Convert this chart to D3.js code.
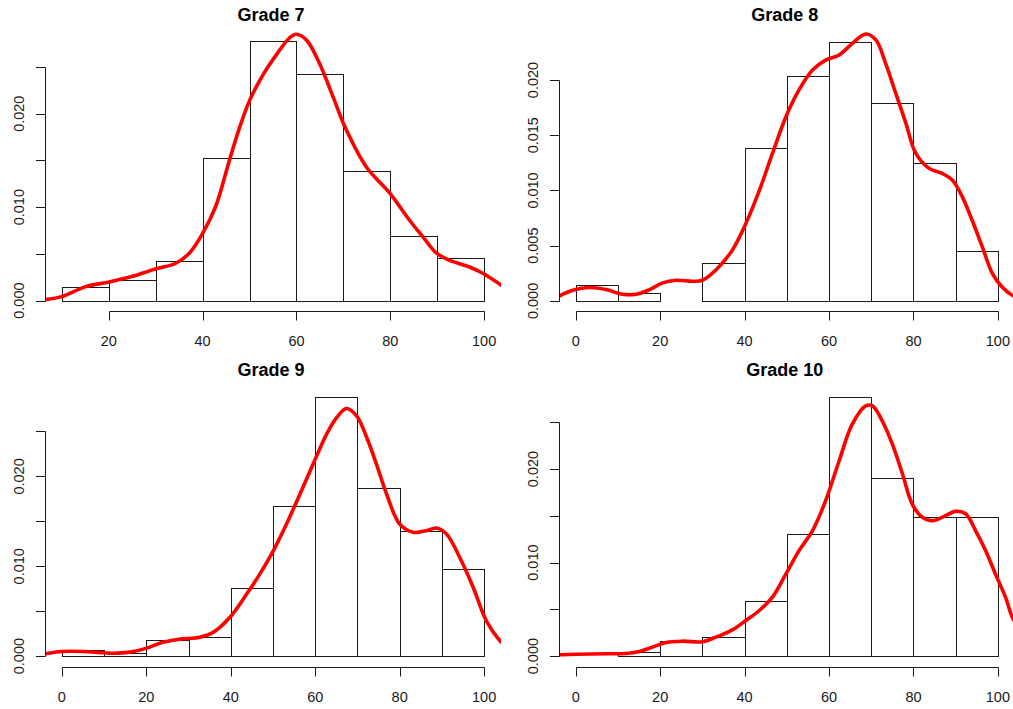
<!DOCTYPE html>
<html><head><meta charset="utf-8">
<script src="https://cdn.jsdelivr.net/npm/d3@7"></script>
<style>body{margin:0;background:#fff}svg{display:block}</style>
</head><body>
<script>
// ---- data ----
const titles = ["Grade 7", "Grade 8", "Grade 9", "Grade 10"];

const breaks7 = [10,20,30,40,50,60,70,80,90,100];
const breaksAll = [0,10,20,30,40,50,60,70,80,90,100];

const dens7  = [0.00143,0.00221,0.00425,0.01529,0.02774,0.02428,0.01387,0.00695,0.0046];
const dens8  = [0.00145,0.00076,0,0.00347,0.01381,0.02033,0.02347,0.01795,0.01251,0.00456];
const dens9  = [0.0007,0.00037,0.00174,0.00215,0.00763,0.0167,0.02885,0.0187,0.01389,0.00974];
const dens10 = [0,0.00043,0.00163,0.00206,0.00591,0.0131,0.02772,0.019,0.01488,0.01488];

const kdeX7 = [5.8,9.75,15.1,20.1,25.05,30,34.3,37.2,40,42.8,45.7,47.8,50,52.8,55.7,58.5,59.9,62.1,64.9,67.8,70.6,74.9,79.9,84.1,87,89.8,92.7,96.9,99.8,104.1];
const kdeY7 = [0.00007,0.0004,0.0015,0.002,0.0026,0.0034,0.004,0.0051,0.0072,0.0101,0.015,0.0184,0.0214,0.0241,0.0263,0.0281,0.0285,0.0279,0.0254,0.0218,0.0183,0.0143,0.0115,0.0086,0.0068,0.0051,0.0043,0.0036,0.0029,0.0015];

const kdeX8 = [-4,-0.7,3.2,7.2,11.1,14.3,17.4,20.6,23.7,27.7,30,33.2,37.1,40.3,43.5,46.6,49.8,52.9,56.1,59.2,62.4,65.5,68.7,71.1,73.4,75.8,78.2,80.5,83.7,86.8,89.2,91.6,93.9,96.3,98.7,101,103.4,105];
const kdeY8 = [0.00042,0.00097,0.00121,0.00103,0.0006,0.0006,0.001,0.00163,0.00187,0.00178,0.00187,0.0028,0.0046,0.007,0.01,0.01335,0.01668,0.0191,0.0209,0.0218,0.02227,0.0233,0.02417,0.02363,0.0215,0.0188,0.0161,0.0134,0.012,0.01154,0.01094,0.0094,0.0073,0.0049,0.00248,0.00127,0.00051,0.0003];

const kdeX9 = [-4,0,5.1,9.9,13,17,20.1,24.1,28,32.7,35.9,39.8,43.8,46.9,50.1,53.2,56.4,59.5,62.7,65.1,67.4,69.8,72.2,74.5,76.9,80,83.2,86.3,88.7,91.1,94.2,97.4,100.5,103.7,105];
const kdeY9 = [0.00026,0.00052,0.00052,0.00037,0.00033,0.00052,0.00089,0.00156,0.00189,0.00211,0.00267,0.00433,0.00693,0.00915,0.01174,0.0147,0.01804,0.02137,0.0247,0.02656,0.02756,0.02674,0.02433,0.02137,0.01804,0.0147,0.01378,0.01396,0.01426,0.01359,0.011,0.00767,0.00396,0.00174,0.0012];

const kdeX10 = [-4,0,7.2,11.9,15.1,18.2,21.4,25.3,30,33.2,37.1,40.3,43.5,46.6,49.8,52.9,56.1,59.2,62.4,65.5,68.7,70.3,72.6,75,77.4,79.7,82.1,84.5,86.8,90,92.4,94.7,97.1,99.4,101.8,103.4,105];
const kdeY10 = [0.00014,0.0002,0.00025,0.00028,0.0005,0.00096,0.00146,0.0016,0.00153,0.00203,0.00281,0.00381,0.00488,0.0063,0.00879,0.01128,0.01342,0.01662,0.02089,0.0248,0.02676,0.02676,0.02516,0.02267,0.01947,0.01626,0.01484,0.01448,0.01484,0.01548,0.0152,0.01342,0.01128,0.00879,0.0063,0.00416,0.003];

const xTicks7 = [20,40,60,80,100];
const xTicksAll = [0,20,40,60,80,100];
const yTicks25 = [0,0.005,0.010,0.015,0.020,0.025];
const yTicks20 = [0,0.005,0.010,0.015,0.020];
const yLabels25 = [0,0.010,0.020];
const yLabels20 = [0,0.005,0.010,0.015,0.020];

// ---- layout ----
const W = 1013, H = 709;
const plotW = 456, plotH = 280;
const panels = [
  {title: titles[0], left: 45,    top: 31,    breaks: breaks7,   dens: dens7,  kx: kdeX7,  ky: kdeY7,  xt: xTicks7,   yt: yTicks25, yl: yLabels25},
  {title: titles[1], left: 558.8, top: 31.3,  breaks: breaksAll, dens: dens8,  kx: kdeX8,  ky: kdeY8,  xt: xTicksAll, yt: yTicks20, yl: yLabels20},
  {title: titles[2], left: 45,    top: 386.5, breaks: breaksAll, dens: dens9,  kx: kdeX9,  ky: kdeY9,  xt: xTicksAll, yt: yTicks25, yl: yLabels25},
  {title: titles[3], left: 558.8, top: 386.5, breaks: breaksAll, dens: dens10, kx: kdeX10, ky: kdeY10, xt: xTicksAll, yt: yTicks25, yl: yLabels25}
];

const svg = d3.select("body").append("svg").attr("width", W).attr("height", H)
  .style("font-family", "'Liberation Sans', Arial, sans-serif");

const ink = "#1a1a1a";
const fmt = d3.format(".3f");
const s = v => Math.round(v) + 0.5; // snap to pixel centre

panels.forEach((p, i) => {
  const b0 = p.breaks[0], b1 = p.breaks[p.breaks.length - 1];
  const pad = 0.04 * (b1 - b0);
  const x = d3.scaleLinear().domain([b0 - pad, b1 + pad]).range([p.left, p.left + plotW]);
  const m = d3.max(p.dens);
  const y = d3.scaleLinear().domain([-0.04 * m, 1.04 * m]).range([p.top + plotH, p.top]);

  const g = svg.append("g");

  // bars
  g.selectAll("rect.bar").data(p.dens).enter().append("rect")
    .attr("x", (d, j) => s(x(p.breaks[j])))
    .attr("y", d => s(y(d)))
    .attr("width", (d, j) => s(x(p.breaks[j + 1])) - s(x(p.breaks[j])))
    .attr("height", d => s(y(0)) - s(y(d)))
    .attr("fill", "#fff").attr("stroke", ink).attr("stroke-width", 1);

  // density curve, clipped to plot region
  const clipId = "clip" + i;
  svg.append("clipPath").attr("id", clipId).append("rect")
    .attr("x", p.left).attr("y", p.top).attr("width", plotW).attr("height", plotH);
  const pts = p.kx.map((v, j) => [v, p.ky[j]]);
  g.append("path").datum(pts)
    .attr("clip-path", `url(#${clipId})`)
    .attr("d", d3.line().x(d => x(d[0])).y(d => y(d[1])).curve(d3.curveCatmullRom.alpha(0.5)))
    .attr("fill", "none").attr("stroke", "#ff0000").attr("stroke-width", 3.6)
    .attr("stroke-linejoin", "round");

  // x axis
  const ax = s(p.top + plotH);
  const xa = g.append("g").attr("stroke", ink).attr("stroke-width", 1);
  xa.append("line").attr("x1", s(x(p.xt[0]))).attr("x2", s(x(p.xt[p.xt.length - 1]))).attr("y1", ax).attr("y2", ax);
  xa.selectAll("line.t").data(p.xt).enter().append("line")
    .attr("x1", d => s(x(d))).attr("x2", d => s(x(d))).attr("y1", ax).attr("y2", ax + 9);
  g.selectAll("text.xl").data(p.xt).enter().append("text")
    .attr("x", d => x(d)).attr("y", ax + 34).attr("text-anchor", "middle")
    .attr("font-size", 14.5).attr("fill", ink).text(d => d);

  // y axis
  const ay = s(p.left);
  const ya = g.append("g").attr("stroke", ink).attr("stroke-width", 1);
  ya.append("line").attr("x1", ay).attr("x2", ay).attr("y1", s(y(p.yt[0]))).attr("y2", s(y(p.yt[p.yt.length - 1])));
  ya.selectAll("line.t").data(p.yt).enter().append("line")
    .attr("x1", ay - 9.5).attr("x2", ay).attr("y1", d => s(y(d))).attr("y2", d => s(y(d)));
  g.selectAll("text.yl").data(p.yl).enter().append("text")
    .attr("transform", d => `translate(${ay - 21.5},${y(d)}) rotate(-90)`)
    .attr("text-anchor", "middle").attr("font-size", 14.5).attr("fill", ink)
    .text(d => fmt(d));

  // title
  g.append("text").attr("x", p.left + plotW / 2 - 2).attr("y", p.top - 10.5)
    .attr("text-anchor", "middle").attr("font-size", 18).attr("font-weight", "bold")
    .attr("fill", "#000").text(p.title);
});
</script>
</body></html>
